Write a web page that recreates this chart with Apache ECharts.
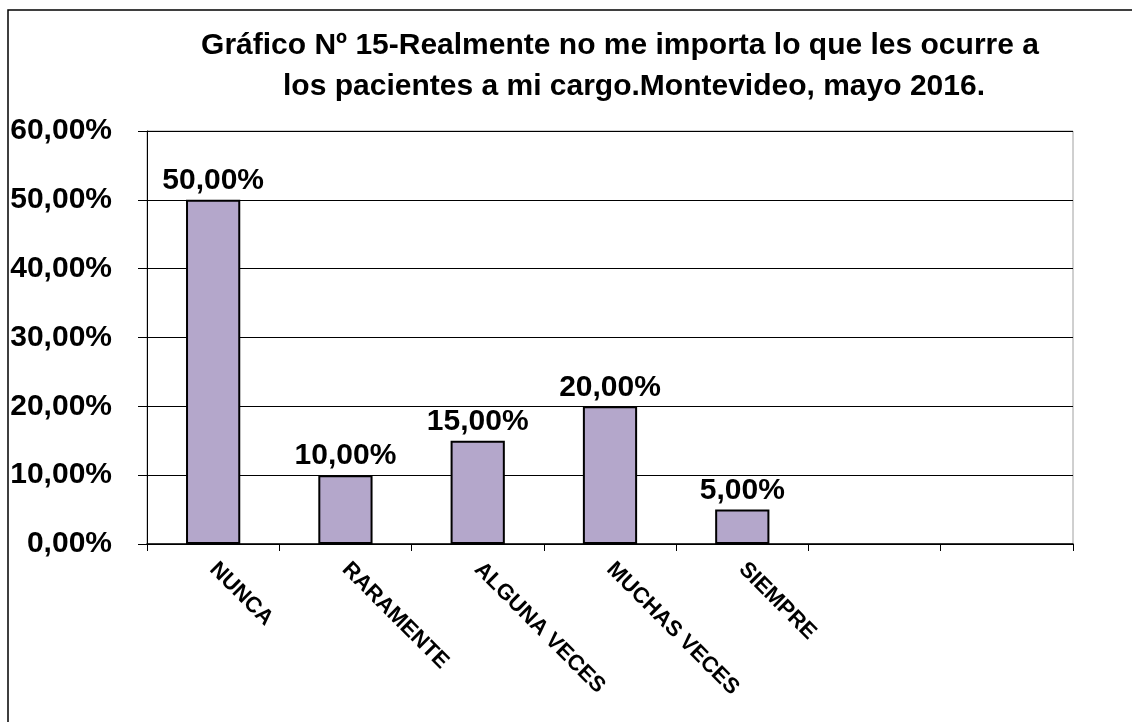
<!DOCTYPE html>
<html lang="es">
<head>
    <meta charset="UTF-8">
    <title>Gráfico Nº 15</title>
    <style>
        html, body { margin: 0; padding: 0; background: #fff; }
        .container { width: 1132px; height: 722px; }
    </style>
    <script src="https://cdn.jsdelivr.net/npm/echarts@6/dist/echarts.min.js"></script>
</head>
<body>
    <div class="container"></div>
    <script>
        // categorías del eje x (las dos últimas vacías, como en el original)
        const categorias = ['NUNCA', 'RARAMENTE', 'ALGUNA VECES', 'MUCHAS VECES', 'SIEMPRE', '', ''];
        // porcentajes por categoría
        const porcentajes = [50, 10, 15, 20, 5, null, null];
        const tituloLinea1 = 'Gráfico Nº 15-Realmente no me importa lo que les ocurre a';
        const tituloLinea2 = 'los pacientes a mi cargo.Montevideo, mayo 2016.';

        const fuente = '"Liberation Sans", Arial, sans-serif';
        const fmt = v => Number(v).toFixed(2).replace('.', ',') + '%';
        const estiloTitulo = {
            fontFamily: fuente,
            fontSize: 30,
            fontWeight: 'bold',
            color: '#000'
        };

        const chart = echarts.init(document.querySelector('.container'));
        chart.setOption({
            backgroundColor: '#fff',
            animation: false,
            title: [
                { text: tituloLinea1, left: 620, top: 31, textAlign: 'center', padding: 0, textStyle: estiloTitulo },
                { text: tituloLinea2, left: 634, top: 72, textAlign: 'center', padding: 0, textStyle: estiloTitulo }
            ],
            graphic: [{
                type: 'rect',
                shape: { x: 8, y: 10, width: 2000, height: 2000 },
                style: { fill: 'none', stroke: '#000', lineWidth: 1.5 },
                silent: true
            }],
            grid: {
                left: 147,
                right: 59,
                top: 131,
                bottom: 178,
                show: true,
                borderColor: '#a0a0a0',
                borderWidth: 1
            },
            xAxis: {
                type: 'category',
                data: categorias,
                axisLine: { lineStyle: { color: '#000', width: 1.5 } },
                axisTick: { show: true, length: 7, lineStyle: { color: '#000' } },
                axisLabel: {
                    interval: 0,
                    rotate: -45,
                    margin: 22,
                    fontFamily: fuente,
                    fontSize: 22,
                    fontWeight: 'bold',
                    color: '#000'
                }
            },
            yAxis: {
                type: 'value',
                min: 0,
                max: 60,
                interval: 10,
                axisLine: { show: true, lineStyle: { color: '#000', width: 1 } },
                axisTick: { show: true, length: 9, lineStyle: { color: '#000' } },
                splitLine: { lineStyle: { color: '#000', width: 1 } },
                axisLabel: {
                    formatter: fmt,
                    margin: 35,
                    fontFamily: fuente,
                    fontSize: 30,
                    fontWeight: 'bold',
                    color: '#000'
                }
            },
            series: [{
                type: 'bar',
                data: porcentajes,
                barWidth: '41%',
                itemStyle: { color: '#b4a7cb', borderColor: '#000', borderWidth: 2 },
                label: {
                    show: true,
                    position: 'top',
                    distance: 4,
                    formatter: p => fmt(p.value),
                    fontFamily: fuente,
                    fontSize: 30,
                    fontWeight: 'bold',
                    color: '#000'
                }
            }]
        });
    </script>
</body>
</html>
